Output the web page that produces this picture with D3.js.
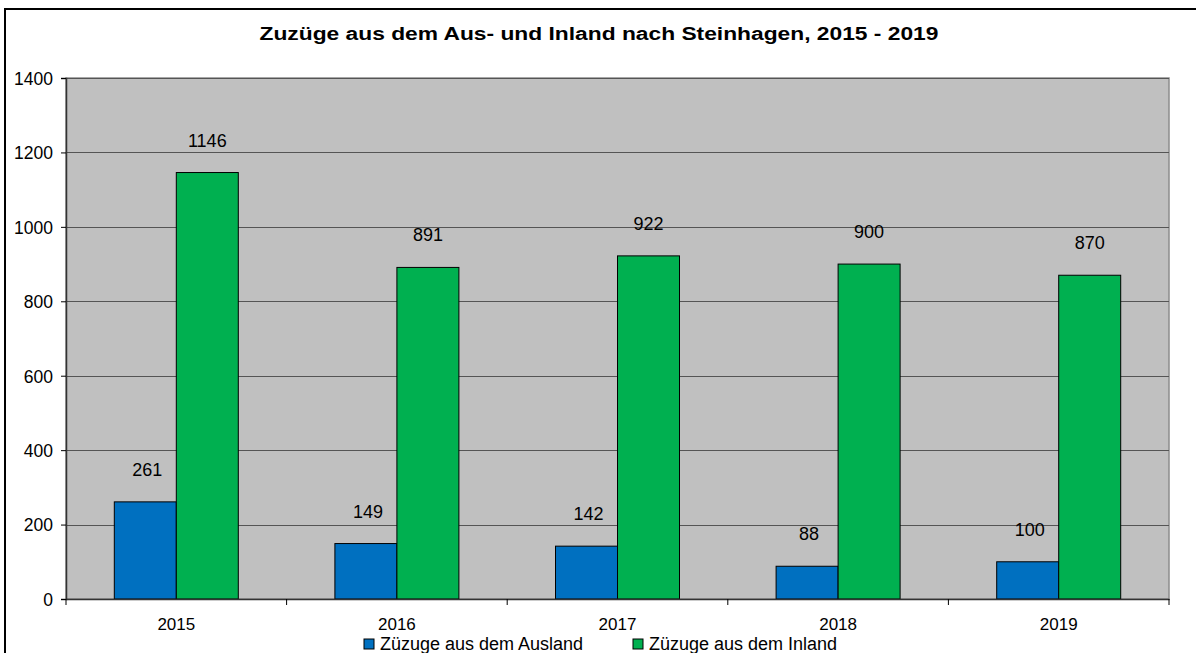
<!DOCTYPE html>
<html>
<head>
<meta charset="utf-8">
<script src="https://cdn.jsdelivr.net/npm/d3@7"></script>
<style>
  body { margin: 0; background: #fff; }
  text { font-family: "Liberation Sans", Arial, sans-serif; fill: #000; }
</style>
</head>
<body>
<svg id="chart" width="1196" height="653"></svg>
<script>
/////////////////////
// Data
/////////////////////

var years = ["2015", "2016", "2017", "2018", "2019"];
var seriesNames = ["Züzuge aus dem Ausland", "Züzuge aus dem Inland"];
var ausland = [261, 149, 142, 88, 100];
var inland = [1146, 891, 922, 900, 870];
var yTicks = [0, 200, 400, 600, 800, 1000, 1200, 1400];
var colors = ["#0070c0", "#00b050"];

var rows = years.map(function(y, i) {
    return {year: y, values: [ausland[i], inland[i]]};
});

/////////////////////
// Layout
/////////////////////

var svg = d3.select("#chart");
var plot = {left: 66, top: 78, right: 1169, bottom: 599};

var x = d3.scaleBand()
    .domain(years)
    .range([plot.left, plot.right]);

var y = d3.scaleLinear()
    .domain([0, 1400])
    .range([plot.bottom, plot.top]);

var barW = 62;

// outer frame
svg.append("rect")
    .attr("x", 5).attr("y", 9)
    .attr("width", 1300).attr("height", 700)
    .attr("fill", "#fff")
    .attr("stroke", "#000")
    .attr("stroke-width", 2);

// title (stretched a bit wider, like the original)
svg.append("text")
    .attr("transform", "translate(599,40) scale(1.2,1)")
    .attr("text-anchor", "middle")
    .style("font-size", "19px")
    .style("font-weight", "bold")
    .text("Zuzüge aus dem Aus- und Inland nach Steinhagen, 2015 - 2019");

// plot background
svg.append("rect")
    .attr("x", plot.left).attr("y", plot.top)
    .attr("width", plot.right - plot.left)
    .attr("height", plot.bottom - plot.top)
    .attr("fill", "#c0c0c0")
    .attr("stroke", "#8c8c8c")
    .attr("stroke-width", 1.5);

// grid lines
svg.append("g").selectAll("line")
    .data(yTicks.slice(1))
  .enter().append("line")
    .attr("x1", plot.left).attr("x2", plot.right)
    .attr("y1", function(d) { return Math.round(y(d)) + 0.5; })
    .attr("y2", function(d) { return Math.round(y(d)) + 0.5; })
    .attr("stroke", "#555")
    .attr("stroke-width", 1);

/////////////////////
// Bars
/////////////////////

var groups = svg.append("g").selectAll("g")
    .data(rows)
  .enter().append("g");

function pairs(d) {
    return d.values.map(function(v, k) { return {year: d.year, v: v, k: k}; });
}

groups.selectAll("rect")
    .data(pairs)
  .enter().append("rect")
    .attr("x", function(d) { return x(d.year) + x.bandwidth() / 2 - barW + d.k * barW; })
    .attr("y", function(d) { return y(d.v); })
    .attr("width", barW)
    .attr("height", function(d) { return y(0) - y(d.v); })
    .attr("fill", function(d) { return colors[d.k]; })
    .attr("stroke", "#000")
    .attr("stroke-width", 1);

groups.selectAll("text")
    .data(pairs)
  .enter().append("text")
    .attr("x", function(d) { return x(d.year) + x.bandwidth() / 2 - barW / 2 + d.k * barW + (d.k === 0 ? 2 : 0); })
    .attr("y", function(d) { return y(d.v) - 26; })
    .attr("text-anchor", "middle")
    .style("font-size", "18px")
    .text(function(d) { return d.v; });

/////////////////////
// Axes
/////////////////////

var yAxis = svg.append("g")
    .attr("transform", "translate(" + plot.left + ",0)")
    .call(d3.axisLeft(y).tickValues(yTicks).tickFormat(d3.format("d")).tickSize(5).tickPadding(8));
yAxis.selectAll("text").style("font-size", "17.5px").attr("dy", "0.36em");

var xAxis = svg.append("g")
    .attr("transform", "translate(0," + plot.bottom + ")")
    .call(d3.axisBottom(x).tickSize(0));
xAxis.selectAll("text")
    .style("font-size", "17px")
    .attr("y", 31).attr("dy", 0);

// category boundary ticks
svg.append("g").selectAll("line")
    .data(years.concat(["end"]))
  .enter().append("line")
    .attr("x1", function(d, i) { return i < years.length ? x(d) : plot.right; })
    .attr("x2", function(d, i) { return i < years.length ? x(d) : plot.right; })
    .attr("y1", plot.bottom).attr("y2", plot.bottom + 6)
    .attr("stroke", "#000");

svg.selectAll(".domain").attr("stroke", "#333").attr("stroke-width", 1.5);

/////////////////////
// Legend
/////////////////////

var legend = svg.append("g").selectAll("g")
    .data(seriesNames)
  .enter().append("g")
    .attr("transform", function(d, i) { return "translate(" + (364 + i * 269) + ",639)"; });
legend.append("rect")
    .attr("width", 10).attr("height", 10)
    .attr("fill", function(d, i) { return colors[i]; })
    .attr("stroke", "#000");
legend.append("text")
    .attr("x", 16).attr("y", 11)
    .style("font-size", "18px")
    .text(function(d) { return d; });
</script>
</body>
</html>
